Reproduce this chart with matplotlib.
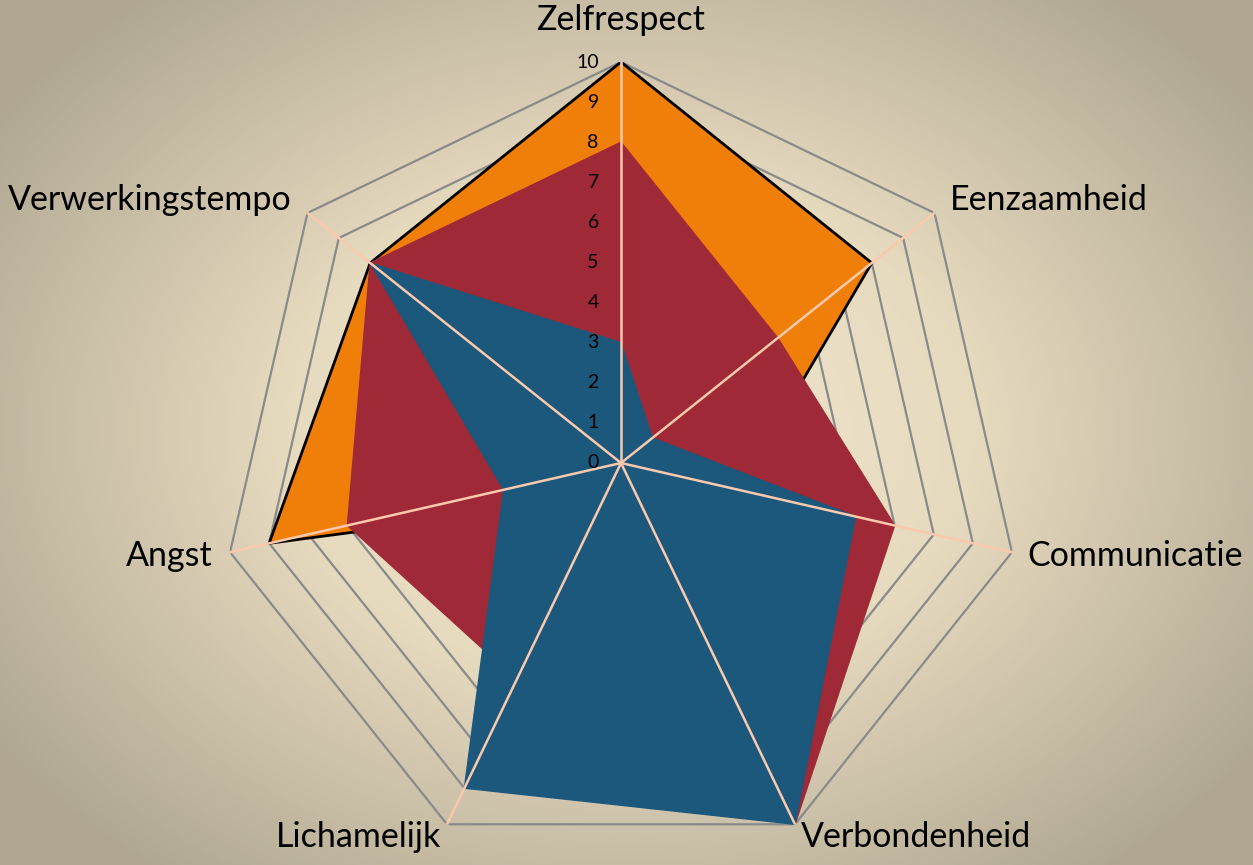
import numpy as np
import matplotlib
matplotlib.use("Agg")
import matplotlib.pyplot as plt
from matplotlib.colors import LinearSegmentedColormap

# data
categories = ["Zelfrespect", "Eenzaamheid", "Communicatie", "Verbondenheid",
              "Lichamelijk", "Angst", "Verwerkingstempo"]
orange_vals = [10, 8, 3, 2, 1, 9, 8]
red_vals = [8, 5, 7, 10, 6, 7, 8]
blue_vals = [3, 1, 6, 10, 9, 3, 8]
ticks = list(range(0, 11))

plt.rcParams["font.family"] = ["Lato", "DejaVu Sans"]

fig = plt.figure(figsize=(12.53, 8.65), dpi=100)

# background radial gradient
bg = fig.add_axes([0, 0, 1, 1])
yy, xx = np.mgrid[0:865, 0:1253]
d = np.sqrt(((xx - 630) / 760.0) ** 2 + ((yy - 430) / 560.0) ** 2)
d = np.clip(d, 0, 1)
cmap = LinearSegmentedColormap.from_list("bg", [(0, "#f1e7cf"), (0.45, "#e6dabf"),
                                                (1, "#b1a892")])
bg.imshow(d, cmap=cmap, aspect="auto", vmin=0, vmax=1)
bg.axis("off")

# radar axes
ax = fig.add_axes([220 / 1253, 1 / 865, 802 / 1253, 802 / 865], projection="polar")
ax.patch.set_alpha(0)
ax.set_theta_zero_location("N")
ax.set_theta_direction(-1)
ax.set_ylim(0, 10)
ax.grid(False)
ax.spines["polar"].set_visible(False)
ax.set_xticks([])
ax.set_yticks([])

n = len(categories)
angles = np.linspace(0, 2 * np.pi, n, endpoint=False)
closed = np.concatenate([angles, angles[:1]])

# polygon gridlines
for t in ticks[1:]:
    ax.plot(closed, [t] * (n + 1), color="#8a8a8a", lw=1.6, zorder=1)

def close(v):
    return list(v) + [v[0]]

ax.fill(closed, close(orange_vals), color="#f07f09", zorder=2)
ax.plot(closed, close(orange_vals), color="black", lw=2, zorder=2.5)
ax.fill(closed, close(red_vals), color="#9f2936", zorder=3)
ax.fill(closed, close(blue_vals), color="#1b587c", zorder=4)

# spokes on top
for a in angles:
    ax.plot([a, a], [0, 10], color="#fbc9ad", lw=1.8, zorder=5)

# tick labels along top axis
for t in ticks:
    ax.annotate(str(t), xy=(0, t), xytext=(-16, 0), textcoords="offset points",
                ha="right", va="center", fontsize=14, zorder=6)

# category labels
label_pos = [
    (0, 11.05, "center", "center"),
    (angles[1], 10.5, "left", "center"),
    (angles[2], 10.4, "left", "center"),
    (angles[3], 10.35, "left", "center"),
    (angles[4], 10.35, "right", "center"),
    (angles[5], 10.45, "right", "center"),
    (angles[6], 10.5, "right", "center"),
]
for name, (a, r, ha, va) in zip(categories, label_pos):
    ax.text(a, r, name, ha=ha, va=va, fontsize=24.5, zorder=6)

fig.savefig("out.png", dpi=100)
